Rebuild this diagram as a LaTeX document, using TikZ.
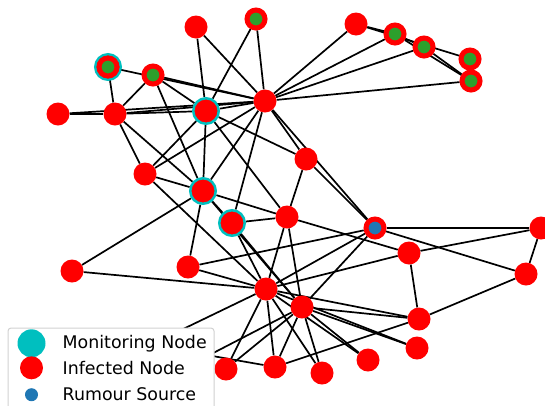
\documentclass[tikz,border=0pt]{standalone}
\usepackage{fontspec}
\setmainfont{DejaVu Sans}
\usetikzlibrary{backgrounds}
\definecolor{leafgreen}{HTML}{2CA02C}
\definecolor{moncyan}{rgb}{0,0.75,0.75}
\definecolor{srcblue}{HTML}{1F77B4}
\tikzset{
  inf/.style={circle,fill=red,minimum size=23,inner sep=0},
  grn/.style={circle,draw=red,fill=leafgreen,line width=5,minimum size=18,inner sep=0},
  mon/.style={circle,draw=moncyan,fill=red,line width=2.5,minimum size=25.5,inner sep=0},
  src/.style={circle,draw=red,fill=srcblue,line width=5,minimum size=18,inner sep=0},
  link/.style={line width=1.7},
  legtext/.style={anchor=base west,inner sep=0,font=\fontsize{17.4}{20}\selectfont}
}
\begin{document}
\begin{tikzpicture}[x=1pt,y=-1pt]
  \useasboundingbox (0,0) rectangle (545,405);

    % infected nodes
    \foreach \n/\x/\y in {A/196/27, C/356/24, J/58/114, K/115/114, M/265/101,
      N/306/159, O/145/174, R/287/217, T/409/253, U/541/228, V/526/274,
      W/72/271, X/188/267, Y/266/289, Z/302/307, a/419/319, b/417/348,
      c/368/360, d/322/373, e/275/367, f/226/369, h1/150/345, h2/165/378}
    \node[inf] (\n) at (\x,\y) {};

    \foreach \n/\x/\y in {B/256/19, D/395/34, E/424/47, F/470/59, G/471/81, I/153/75}
    \node[grn] (\n) at (\x,\y) {};

    % monitoring nodes
    \foreach \n/\x/\y in {Hr/108/67, L/206/111, P/203/191, Q/232/223}
    \node[mon] (\n) at (\x,\y) {};
    \node[grn] (H) at (108,67) {};

    \node[src] (S) at (375,228) {};

    \begin{pgfonlayer}{background}
    \foreach \a/\b in {M/A, M/B, M/C, M/D, M/E, M/G, M/H, M/I, M/J, M/K, M/L,
      M/N, M/S, M/O, M/P, M/Q, A/L, B/L, C/D, C/F, D/E, D/G, E/G,
      H/K, I/K, I/L, I/P, J/K, K/L, K/O, K/P, L/O, L/P, L/N, L/R,
      N/R, N/S, O/P, O/Y, P/Q, P/R, P/X, P/W, P/Z, Q/R, Q/Z, Q/Y,
      R/T, R/Y, R/Z, S/U, S/V, S/X, S/Y, S/Z, T/U, T/a, T/Y, U/V, V/a,
      W/Y, X/Y, Y/f, Y/e, Y/d, Y/a, Y/b, Y/c, Y/h1,
      Z/a, Z/b, Z/c, Z/d, Z/e, Z/f, Z/h2, e/a, e/h1}
    \draw[link] (\a) -- (\b);
    \end{pgfonlayer}

    % legend
    \node[draw=black!18,fill=white,rounded corners=3,line width=1,inner sep=0,
      minimum width=206,minimum height=95,anchor=north west] (leg) at (7.5,327.5) {};
    \node[circle,fill=moncyan,minimum size=28,inner sep=0] (kmon) at (31.5,343.3) {};
    \node[inf] (kinf) at (31.5,367.8) {};
    \node[circle,fill=srcblue,minimum size=13,inner sep=0] (ksrc) at (31.5,394.7) {};
    \node[legtext] (tmon) at (62.5,348.3) {Monitoring Node};
    \node[legtext] (tinf) at (62.5,374.2) {Infected Node};
    \node[legtext] (tsrc) at (62.5,400) {Rumour Source};
  \end{tikzpicture}
\end{document}
